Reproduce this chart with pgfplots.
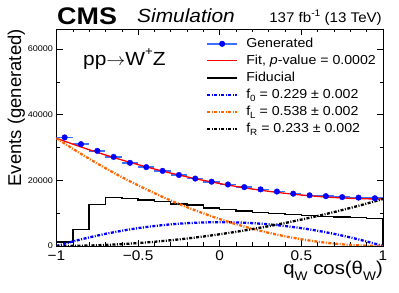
\documentclass[border=0pt]{standalone}
\usepackage{fontspec}
\setmainfont{Liberation Sans}
\usepackage{graphicx}
\usepackage{pgfplots}
\usepackage{pgfplotstable}
\pgfplotsset{compat=1.18}
\definecolor{fLor}{RGB}{255,102,0}
\definecolor{genbar}{RGB}{60,110,255}
\definecolor{gendot}{RGB}{0,0,255}
\newcommand\sx[1]{\scalebox{1.09}[1]{#1}}
\newcommand\sub[1]{\raisebox{-0.28em}{\fontsize{9}{9}\selectfont #1}}

\pgfplotstableread{
x     f0      fL       fR       fit
-1.0  0       32840    0        32840
-0.9  1377.5  29638.1  35.8     31051.4
-0.8  2610    26600.4  143.2    29353.6
-0.7  3697.5  23726.9  322.2    27746.6
-0.6  4640    21017.6  572.8    26230.4
-0.5  5437.5  18472.5  895      24805
-0.4  6090    16091.6  1288.8   23470.4
-0.3  6597.5  13874.9  1754.2   22226.6
-0.2  6960    11822.4  2291.2   21073.6
-0.1  7177.5  9934.1   2899.8   20011.4
0.0   7250    8210     3580     19040
0.1   7177.5  6650.1   4331.8   18159.4
0.2   6960    5254.4   5155.2   17369.6
0.3   6597.5  4022.9   6050.2   16670.6
0.4   6090    2955.6   7016.8   16062.4
0.5   5437.5  2052.5   8055     15545
0.6   4640    1313.6   9164.8   15118.4
0.7   3697.5  738.9    10346.2  14782.6
0.8   2610    328.4    11599.2  14537.6
0.9   1377.5  82.1     12923.8  14383.4
1.0   0       0        14320    14320
}\curves

\pgfplotstableread{
x      y
-0.95  33100
-0.85  31050
-0.75  29000
-0.65  27150
-0.55  25350
-0.45  24050
-0.35  22900
-0.25  21650
-0.15  20550
-0.05  19600
0.05   18750
0.15   17950
0.25   17250
0.35   16600
0.45   15950
0.55   15450
0.65   15200
0.75   14900
0.85   14750
0.95   14550
}\generated

\begin{document}
\begin{tikzpicture}[x=1pt,y=1pt]
\useasboundingbox (0,0) rectangle (399,292);
\begin{axis}[
  at={(56.5pt,46pt)}, anchor=south west,
  scale only axis, width=326.5pt, height=217pt,
  xmin=-1, xmax=1, ymin=0, ymax=66150,
  xtick={-1,-0.5,0,0.5,1},
  xticklabels={−1,−0.5,0,0.5,1},
  minor xtick={-0.9,-0.8,-0.7,-0.6,-0.4,-0.3,-0.2,-0.1,0.1,0.2,0.3,0.4,0.6,0.7,0.8,0.9},
  ytick={0,20000,40000,60000},
  yticklabels={0,20000,40000,60000},
  minor ytick={10000,30000,50000},
  scaled y ticks=false,
  tick align=inside,
  tick pos=both,
  major tick length=6pt, minor tick length=3.5pt,
  every tick/.style={black, line width=0.6pt},
  axis line style={line width=0.7pt},
  x tick label style={font=\fontsize{14}{14}\selectfont, xscale=1.1, inner sep=2pt, yshift=-2.5pt},
  y tick label style={font=\fontsize{8.2}{8.2}\selectfont, xscale=1.1, inner sep=2pt, xshift=-1pt},
  legend image code/.code={\draw[#1] (0pt,0pt) -- (30pt,0pt);},
  legend cell align=left,
  legend style={at={(0.4579,0.964)}, anchor=north west, draw=none, fill=none,
    inner sep=0pt, outer sep=0pt, row sep=3pt, column sep=8pt,
    font=\fontsize{13}{13}\selectfont,
    nodes={inner sep=0pt, text height=10.5pt, text depth=3.5pt}},
]
\addplot[only marks, mark=*, mark size=2.8pt, color=gendot,
  legend image code/.code={\draw[genbar, line width=1.6pt] (0pt,0pt) -- (30pt,0pt);
    \fill[gendot] (15pt,0pt) circle (2.8pt);},
  error bars/.cd, x dir=both, x fixed=0.05,
  error bar style={line width=1.6pt, color=genbar}, error mark=none]
  table[x=x,y=y] {\generated};
\addlegendentry{\sx{Generated}}
\addplot[red, line width=1.3pt, smooth] table[x=x,y=fit] {\curves};
\addlegendentry{\sx{Fit, \textit{p}-value = 0.0002}}
\addplot[black, line width=1.4pt, const plot] coordinates {
  (-1,0) (-1,1200) (-0.9,5100) (-0.8,12600) (-0.7,14850) (-0.6,14550)
  (-0.5,14050) (-0.4,13550) (-0.3,12850) (-0.2,12500) (-0.1,11600)
  (0,11100) (0.1,10700) (0.2,10300) (0.3,9900) (0.4,9550) (0.5,9250)
  (0.6,9050) (0.7,8850) (0.8,8650) (0.9,8450) (1,8450) (1,0)};
\addlegendentry{\sx{Fiducial}}
\addplot[gendot, line width=2.3pt, smooth, dash pattern=on 3pt off 1.5pt on 1pt off 1.5pt] table[x=x,y=f0] {\curves};
\addlegendentry{\sx{f\sub{0} = 0.229 ± 0.002}}
\addplot[fLor, line width=2.3pt, smooth, dash pattern=on 3pt off 1.5pt on 1pt off 1.5pt] table[x=x,y=fL] {\curves};
\addlegendentry{\sx{f\sub{L} = 0.538 ± 0.002}}
\addplot[black, line width=2.3pt, smooth, dash pattern=on 3pt off 1.5pt on 1pt off 1.5pt] table[x=x,y=fR] {\curves};
\addlegendentry{\sx{f\sub{R} = 0.233 ± 0.002}}
\end{axis}
% titles and axis labels
\node[anchor=base west, font=\fontsize{24}{24}\selectfont\bfseries, xscale=1.12, inner sep=0pt] at (57,267.5) {CMS};
\node[anchor=base west, font=\fontsize{19}{19}\selectfont\itshape, xscale=1.1, inner sep=0pt] at (137,269.3) {Simulation};
\node[anchor=base east, font=\fontsize{14}{14}\selectfont, xscale=1.08, inner sep=0pt] at (382,269.3) {137 fb\raisebox{0.45em}{\fontsize{9.5}{9.5}\selectfont -1} (13 TeV)};
\node[anchor=base west, font=\fontsize{19}{19}\selectfont, xscale=1.1, inner sep=0pt] at (83,226.5) {pp$\rightarrow$W\raisebox{0.5em}{\fontsize{12}{12}\selectfont +}Z};
\node[anchor=base east, rotate=90, font=\fontsize{18.5}{18.5}\selectfont, inner sep=0pt] at (21,263) {Events (generated)};
\node[anchor=base east, font=\fontsize{18.5}{18.5}\selectfont, xscale=1.1, inner sep=0pt] at (383,17) {q\raisebox{-0.3em}{\fontsize{12.5}{12.5}\selectfont W} cos(θ\raisebox{-0.3em}{\fontsize{12.5}{12.5}\selectfont W})};
\end{tikzpicture}
\end{document}
